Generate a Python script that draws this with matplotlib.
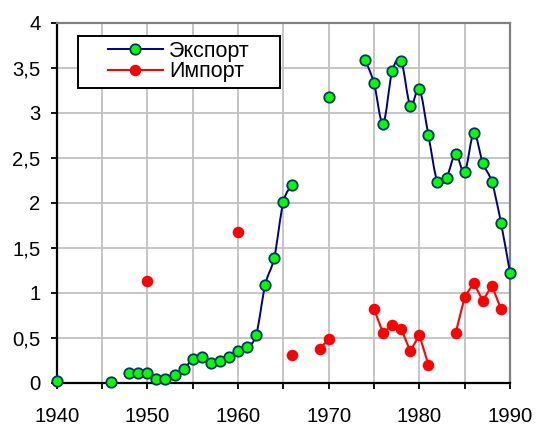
import numpy as np
import matplotlib
matplotlib.use("Agg")
import matplotlib.pyplot as plt
from matplotlib.path import Path
from matplotlib.patches import PathPatch, Rectangle

plt.rcParams['font.family'] = ['Liberation Sans', 'DejaVu Sans']

# export data (years with gaps)
exp_years = [1940, 1946,
             1948, 1949, 1950, 1951, 1952, 1953, 1954, 1955, 1956, 1957,
             1958, 1959, 1960, 1961, 1962, 1963, 1964, 1965, 1966,
             1970,
             1974, 1975, 1976, 1977, 1978, 1979, 1980, 1981, 1982, 1983,
             1984, 1985, 1986, 1987, 1988, 1989, 1990]
exp_vals = [0.02, 0.01,
            0.11, 0.11, 0.11, 0.04, 0.04, 0.09, 0.15, 0.26, 0.29, 0.22,
            0.24, 0.29, 0.35, 0.40, 0.53, 1.09, 1.39, 2.01, 2.20,
            3.17,
            3.59, 3.33, 2.88, 3.46, 3.57, 3.08, 3.26, 2.75, 2.23, 2.28,
            2.54, 2.34, 2.77, 2.44, 2.23, 1.78, 1.22]

# import data
imp_years = [1950, 1960, 1966, 1969, 1970,
             1975, 1976, 1977, 1978, 1979, 1980, 1981,
             1984, 1985, 1986, 1987, 1988, 1989]
imp_vals = [1.13, 1.68, 0.31, 0.37, 0.49,
            0.82, 0.55, 0.64, 0.60, 0.35, 0.53, 0.20,
            0.55, 0.95, 1.11, 0.91, 1.08, 0.82]

labels = ["Экспорт", "Импорт"]


def runs(years, vals):
    # split into consecutive-year pieces
    out = []
    cur_x, cur_y = [years[0]], [vals[0]]
    for x, y in zip(years[1:], vals[1:]):
        if x - cur_x[-1] > 1:
            out.append((cur_x, cur_y))
            cur_x, cur_y = [], []
        cur_x.append(x)
        cur_y.append(y)
    out.append((cur_x, cur_y))
    return out


def smooth_path(xs, ys):
    # excel-like smoothed line: cubic bezier with catmull-rom control points
    n = len(xs)
    verts = [(xs[0], ys[0])]
    codes = [Path.MOVETO]
    for i in range(n - 1):
        a = i - 1 if i > 0 else i
        b = i + 2 if i + 2 < n else i + 1
        c1 = (xs[i] + (xs[i + 1] - xs[a]) / 6, ys[i] + (ys[i + 1] - ys[a]) / 6)
        c2 = (xs[i + 1] - (xs[b] - xs[i]) / 6, ys[i + 1] - (ys[b] - ys[i]) / 6)
        verts += [c1, c2, (xs[i + 1], ys[i + 1])]
        codes += [Path.CURVE4] * 3
    return Path(verts, codes)


fig = plt.figure(figsize=(5.36, 4.26), dpi=100)
W, H = 536, 426
ax = fig.add_axes([56.7 / W, 1 - 382.7 / H, 453.3 / W, 360 / H])

navy = '#000080'
green = '#00ff00'
red = '#ff0000'

for xs, ys in runs(exp_years, exp_vals):
    if len(xs) > 1:
        ax.add_patch(PathPatch(smooth_path(xs, ys), fill=False, edgecolor=navy,
                               lw=1.4, zorder=4, clip_on=False))
ax.plot(exp_years, exp_vals, ls='none', marker='o', ms=7.5, mfc=green,
        mec='#003366', mew=1.3, zorder=5, clip_on=False)

for xs, ys in runs(imp_years, imp_vals):
    if len(xs) > 1:
        ax.plot(xs, ys, color=red, lw=1.5, zorder=4)
ax.plot(imp_years, imp_vals, ls='none', marker='o', ms=8.3, mfc=red,
        mec=red, mew=0, zorder=5, clip_on=False)

ax.set_xlim(1940, 1990)
ax.set_ylim(0, 4)
xt = list(range(1940, 1991, 5))
ax.set_xticks(xt)
ax.set_xticklabels([str(x) if x % 10 == 0 else '' for x in xt])
yt = np.arange(0, 4.01, 0.5)
ax.set_yticks(yt)
ax.set_yticklabels([f"{v:g}".replace('.', ',') for v in yt])
ax.tick_params(axis='both', labelsize=14.6, length=4.5, width=1.3, color='black',
               direction='out')
ax.tick_params(axis='x', pad=13)
ax.tick_params(axis='y', pad=7)
ax.grid(True, color='#c0c0c0', lw=1.3, zorder=0)
ax.set_axisbelow(True)

for s in ['left', 'bottom']:
    ax.spines[s].set_color('black')
    ax.spines[s].set_linewidth(1.6)
for s in ['top', 'right']:
    ax.spines[s].set_color('#808080')
    ax.spines[s].set_linewidth(1.6)

# legend box drawn by hand, entries placed inside
x0, x1, y0, y1 = 78.3, 280, 35.7, 88.3
ax.add_patch(Rectangle(((x0 - 56.7) / 453.3, (382.7 - y1) / 360),
                       (x1 - x0) / 453.3, (y1 - y0) / 360,
                       transform=ax.transAxes, facecolor='white',
                       edgecolor='black', lw=1.4, zorder=6, clip_on=False))
h1, = ax.plot([], [], color=navy, lw=1.4, marker='o', ms=7.5, mfc=green,
              mec='#003366', mew=1.3)
h2, = ax.plot([], [], color=red, lw=1.5, marker='o', ms=8.3, mfc=red, mew=0)
leg = ax.legend([h1, h2], labels, loc='upper left',
                bbox_to_anchor=((108 - 56.7) / 453.3, (382.7 - 40.5) / 360),
                frameon=False, fontsize=15.5, borderpad=0, borderaxespad=0,
                handlelength=2.55, handletextpad=0.3, labelspacing=0.0)
leg.set_zorder(7)

fig.savefig('out.png', dpi=100)
